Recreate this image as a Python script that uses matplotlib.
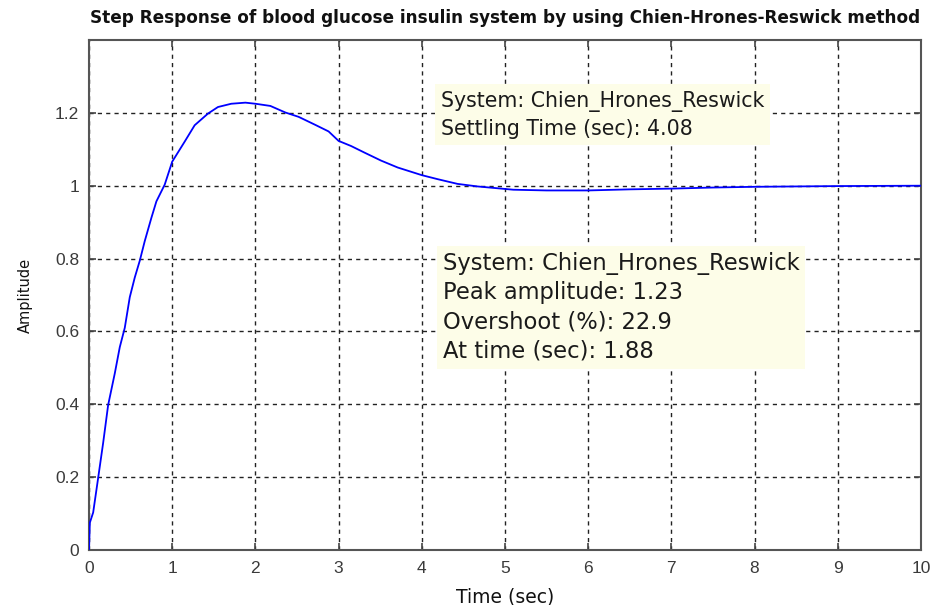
import numpy as np
import matplotlib
matplotlib.use('Agg')
import matplotlib.pyplot as plt

# step response
t = [0.0, 0.01, 0.05, 0.11, 0.17, 0.23, 0.31, 0.37, 0.43, 0.49, 0.55, 0.61, 0.67,
     0.75, 0.81, 0.91, 1.0, 1.15, 1.27, 1.43, 1.55, 1.71, 1.88, 2.0, 2.18, 2.36,
     2.52, 2.72, 2.88, 3.0, 3.15, 3.31, 3.51, 3.71, 4.0, 4.19, 4.43, 4.67, 4.91,
     5.1, 5.5, 6.0, 6.5, 7.0, 7.5, 8.0, 9.0, 10.0]
amplitude = [0.0, 0.075, 0.103, 0.198, 0.294, 0.398, 0.485, 0.557, 0.61, 0.694,
             0.748, 0.794, 0.848, 0.912, 0.957, 1.003, 1.066, 1.121, 1.166, 1.198,
             1.216, 1.225, 1.228, 1.225, 1.219, 1.201, 1.189, 1.167, 1.149, 1.123,
             1.109, 1.091, 1.069, 1.050, 1.029, 1.018, 1.005, 0.998, 0.993, 0.989,
             0.987, 0.987, 0.99, 0.992, 0.995, 0.997, 0.999, 1.0]

x_ticks = list(range(0, 11))
y_ticks = [0, 0.2, 0.4, 0.6, 0.8, 1.0, 1.2]
y_tick_labels = ['0', '0.2', '0.4', '0.6', '0.8', '1', '1.2']

title = 'Step Response of blood glucose insulin system by using Chien-Hrones-Reswick method'
settling_lines = ['System: Chien_Hrones_Reswick', 'Settling Time (sec): 4.08']
peak_lines = ['System: Chien_Hrones_Reswick', 'Peak amplitude: 1.23',
              'Overshoot (%): 22.9', 'At time (sec): 1.88']

plt.rcParams['font.family'] = ['Liberation Sans', 'DejaVu Sans']

fig = plt.figure(figsize=(9.34, 6.05), dpi=100)
ax = fig.add_axes([0.0953, 0.0909, 0.8907, 0.843])

ax.plot(t, amplitude, color='#0000ff', linewidth=1.3, zorder=3)

ax.set_xlim(0, 10)
ax.set_ylim(0, 1.4)
ax.set_xticks(x_ticks)
ax.set_yticks(y_ticks)
ax.set_yticklabels(y_tick_labels)
ax.tick_params(direction='in', length=5, width=1.2, color='#444444',
               top=True, right=True, labelsize=12.5, labelcolor='#3a3a3a')
ax.tick_params(axis='x', pad=8)
ax.tick_params(axis='y', pad=7)
for sp in ax.spines.values():
    sp.set_color('#555555')
    sp.set_linewidth(1.5)
ax.grid(True, color='#222222', linestyle=(0, (3, 3)), linewidth=1.0)
ax.set_axisbelow(True)

ax.set_title(title, fontsize=12.15, fontweight='bold', color='#111111', pad=12,
             family='DejaVu Sans')
ax.set_xlabel('Time (sec)', fontsize=13.5, labelpad=8, color='#111111',
              family='DejaVu Sans')
ax.set_ylabel('Amplitude', fontsize=10.5, labelpad=16, color='#111111',
              family='DejaVu Sans')

# data tip boxes
box = dict(facecolor='#fdfde8', edgecolor='none', pad=4)
ax.text(0.423, 0.853, '\n'.join(settling_lines), transform=ax.transAxes,
        fontsize=14.8, color='#1a1a1a', linespacing=1.45, va='center', ha='left',
        bbox=box, zorder=5, family='DejaVu Sans')
ax.text(0.4255, 0.476, '\n'.join(peak_lines), transform=ax.transAxes,
        fontsize=16.3, color='#1a1a1a', linespacing=1.36, va='center', ha='left',
        bbox=box, zorder=5, family='DejaVu Sans')

fig.savefig('out.png', dpi=100)
